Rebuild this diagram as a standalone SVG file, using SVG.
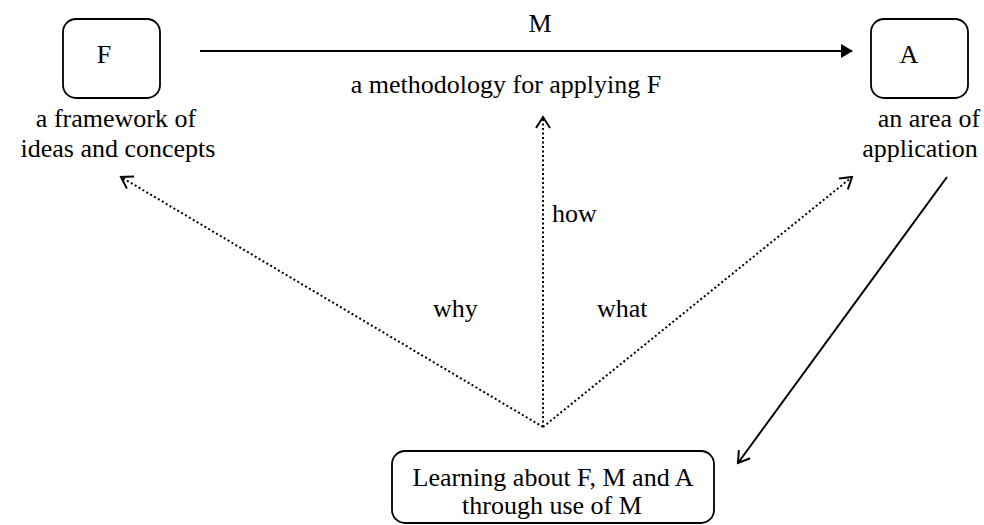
<svg xmlns="http://www.w3.org/2000/svg" width="984" height="525" viewBox="0 0 984 525">
<defs>
<style>
text{font-family:"Liberation Serif","Times New Roman",serif;font-size:26px;fill:#000}
.box{fill:#fff;stroke:#000;stroke-width:1.8}
.solid{stroke:#000;stroke-width:2;fill:none}
.dot{stroke:#000;stroke-width:2;fill:none;stroke-dasharray:2 2.5}
</style>
<marker id="fill" markerWidth="12" markerHeight="14" refX="11" refY="7" orient="auto" markerUnits="userSpaceOnUse">
<path d="M0,0 L12,7 L0,14 Z" fill="#000"/>
</marker>
<marker id="open" markerWidth="14" markerHeight="16" refX="12" refY="8" orient="auto" markerUnits="userSpaceOnUse">
<path d="M1,1 L12,8 L1,15" fill="none" stroke="#000" stroke-width="2"/>
</marker>
</defs>
<g id="connectors">
<line class="solid" x1="200" y1="51" x2="852" y2="51" marker-end="url(#fill)"/>
<line class="solid" x1="947" y1="177" x2="738" y2="463" marker-end="url(#open)"/>
<line class="dot" x1="543" y1="427" x2="543" y2="117" marker-end="url(#open)"/>
<line class="dot" x1="543" y1="427" x2="121" y2="177" marker-end="url(#open)"/>
<line class="dot" x1="543" y1="427" x2="852" y2="177" marker-end="url(#open)"/>
<text x="540" y="32" text-anchor="middle">M</text>
<text x="506" y="93" text-anchor="middle">a methodology for applying F</text>
<text x="552" y="222">how</text>
<text x="433" y="317">why</text>
<text x="597" y="317">what</text>
</g>
<g id="nodeF">
<rect class="box" x="63" y="19" width="97" height="79" rx="13"/>
<text x="104" y="63" text-anchor="middle">F</text>
<text x="116" y="127" text-anchor="middle">a framework of</text>
<text x="118" y="157" text-anchor="middle">ideas and concepts</text>
</g>
<g id="nodeA">
<rect class="box" x="871" y="19" width="97" height="79" rx="13"/>
<text x="909" y="63" text-anchor="middle">A</text>
<text x="929" y="127" text-anchor="middle">an area of</text>
<text x="920" y="157" text-anchor="middle">application</text>
</g>
<g id="nodeL">
<rect class="box" x="392" y="451" width="322" height="72" rx="13"/>
<text x="553" y="486" text-anchor="middle">Learning about F, M and A</text>
<text x="552" y="514" text-anchor="middle">through use of M</text>
</g>
</svg>
